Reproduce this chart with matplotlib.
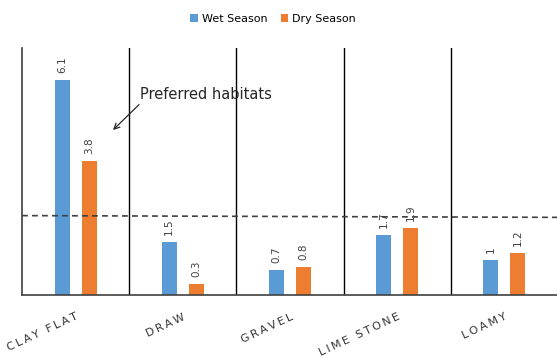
import matplotlib
matplotlib.use("Agg")
import matplotlib.pyplot as plt
import numpy as np

# Habitat use by season
habitats = ["CLAY FLAT", "DRAW", "GRAVEL", "LIME STONE", "LOAMY"]
wet_season = [6.1, 1.5, 0.7, 1.7, 1.0]
dry_season = [3.8, 0.3, 0.8, 1.9, 1.2]
wet_labels = ["6.1", "1.5", "0.7", "1.7", "1"]
dry_labels = ["3.8", "0.3", "0.8", "1.9", "1.2"]
reference_level = [2.25, 2.2]

BLUE = "#5B9BD5"
ORANGE = "#ED7D31"
TEXT = "#404040"

plt.rcParams["font.family"] = ["DejaVu Sans"]

fig = plt.figure(figsize=(5.57, 3.58), dpi=100)
ax = fig.add_axes([22 / 557, 63 / 358, 536 / 557, 247 / 358])

x = np.arange(len(habitats))
width = 0.14
offset = 0.126

ax.bar(x - offset, wet_season, width, color=BLUE, label="Wet Season", zorder=2)
ax.bar(x + offset, dry_season, width, color=ORANGE, label="Dry Season", zorder=2)

# rotated value labels above the bars
for xi, v, s in zip(x - offset, wet_season, wet_labels):
    ax.text(xi, v + 0.2, s, rotation=90, ha="center", va="bottom", fontsize=7.5, color=TEXT)
for xi, v, s in zip(x + offset, dry_season, dry_labels):
    ax.text(xi, v + 0.2, s, rotation=90, ha="center", va="bottom", fontsize=7.5, color=TEXT)

# separators between habitat groups
for b in np.arange(0.5, len(habitats) - 0.5, 1):
    ax.axvline(b, color="black", lw=1.0, zorder=1)

# dashed reference line
ax.plot([-0.5, 4.5], reference_level, ls="--", color="#404040", lw=1.2, dashes=(3.5, 2.5), zorder=3)

ax.annotate("Preferred habitats", xy=(0.6, 5.68), fontsize=10.5, color="#262626",
            ha="left", va="center")
ax.annotate("", xy=(0.33, 4.62), xytext=(0.61, 5.45),
            arrowprops=dict(arrowstyle="->", color="#262626", lw=0.9))

ax.set_xlim(-0.5, 4.5)
ax.set_ylim(0, 7)
ax.set_yticks([])
ax.set_xticks(x)
spaced = ["\u2009".join(list(h)) for h in habitats]
ax.set_xticklabels(spaced, rotation=25, ha="right", rotation_mode="anchor",
                   fontsize=8, color="#333333")
ax.tick_params(axis="x", length=0, pad=12)

ax.spines["top"].set_visible(False)
ax.spines["right"].set_visible(False)
ax.spines["left"].set_color("#404040")
ax.spines["bottom"].set_color("#404040")
ax.spines["left"].set_linewidth(1.2)
ax.spines["bottom"].set_linewidth(1.2)

fig.legend(loc="upper center", bbox_to_anchor=(0.49, 0.99), ncol=2, frameon=False,
           fontsize=8, handlelength=0.7, handleheight=0.7, handletextpad=0.3,
           columnspacing=1.2)

fig.savefig("out.png", dpi=100)
